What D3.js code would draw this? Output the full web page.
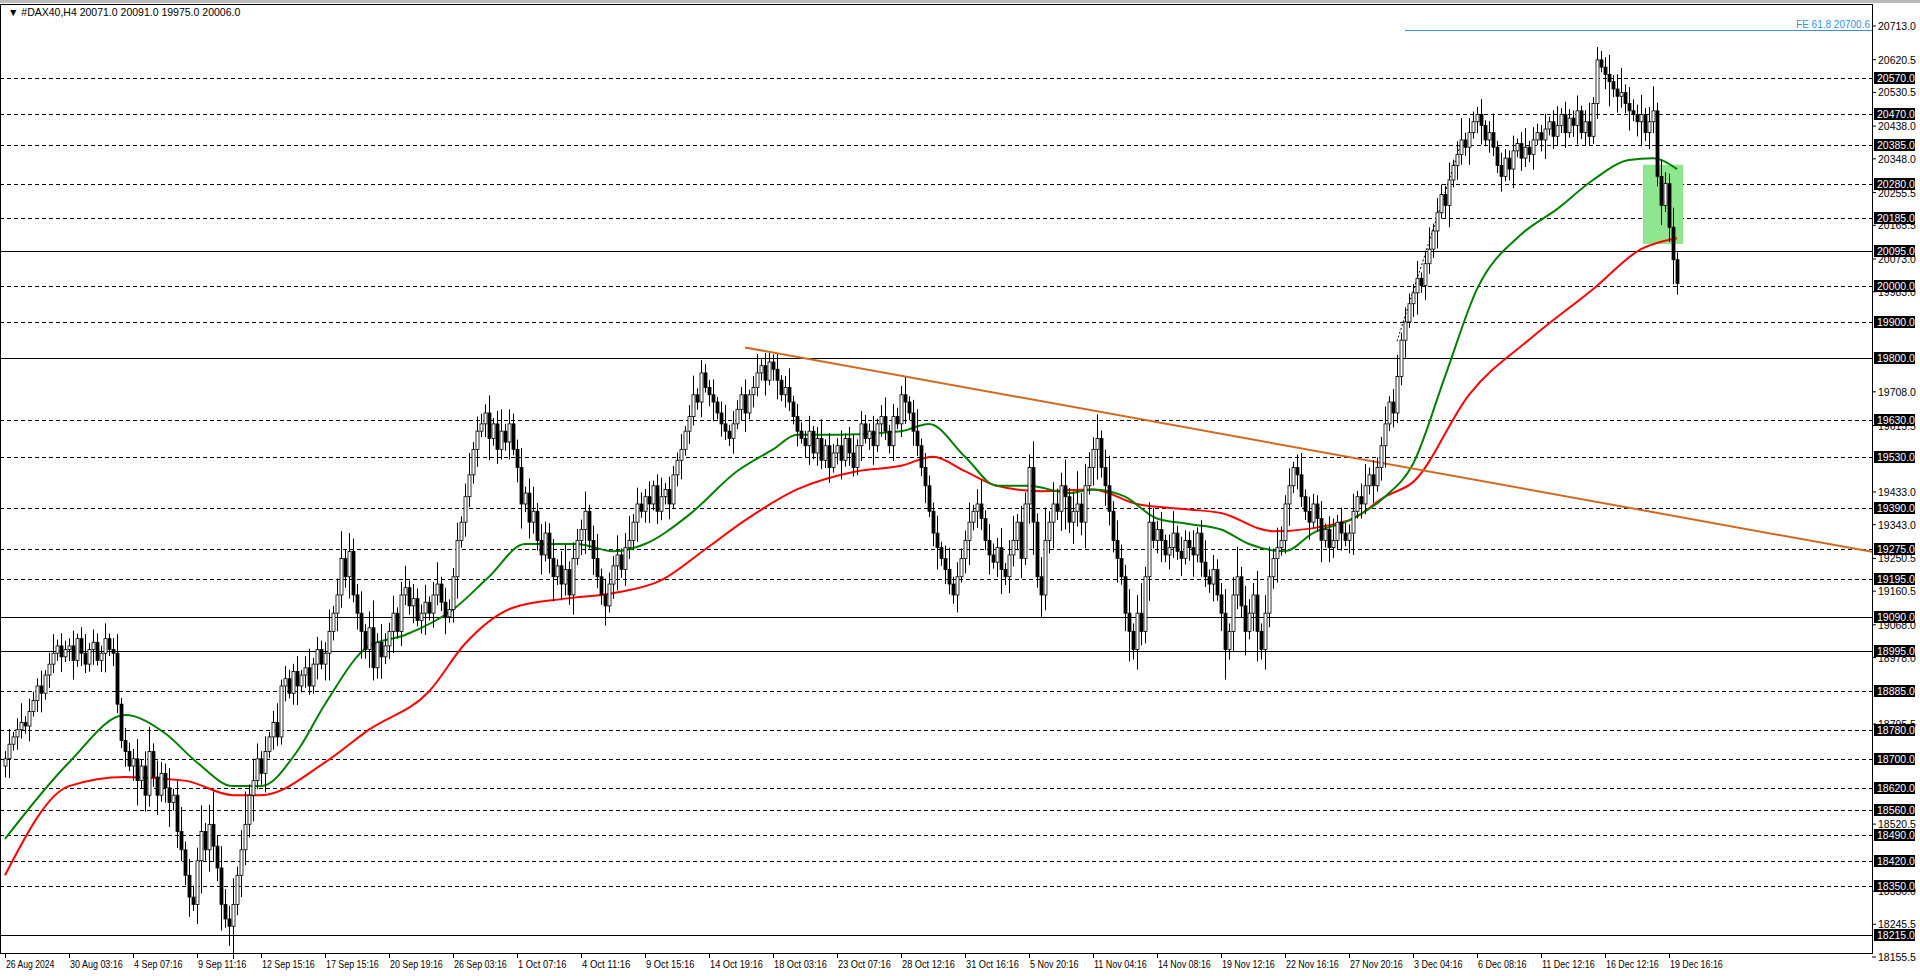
<!DOCTYPE html>
<html><head><meta charset="utf-8">
<script src="https://cdn.jsdelivr.net/npm/d3@7"></script>
<style>
body{margin:0;background:#fff;overflow:hidden}
text{font-family:"Liberation Sans","DejaVu Sans",sans-serif}
</style></head>
<body><svg id="chart" width="1920" height="976"></svg>
<script>
"use strict";
// closes, one per H4 bar
var closes = [
18700,18740,18760,18780,18800,18790,18830,18860,18900,18880,18930,18960,18990,19010,18980,19000,
19010,18970,19030,18990,18960,19000,19020,18970,18990,19030,19000,18990,18850,18750,18720,18680,
18700,18640,18680,18600,18720,18650,18600,18660,18620,18580,18600,18500,18450,18380,18320,18300,
18420,18500,18450,18520,18460,18400,18300,18260,18240,18300,18380,18450,18520,18600,18640,18700,
18660,18720,18760,18800,18760,18900,18920,18880,18940,18900,18930,18950,18900,18960,19000,18960,
18990,19050,19100,19150,19250,19200,19270,19150,19100,19050,19000,19060,18950,19020,18980,19010,
19050,19100,19050,19150,19170,19120,19140,19080,19100,19130,19100,19150,19180,19130,19090,19110,
19200,19300,19350,19420,19480,19550,19600,19620,19650,19580,19620,19550,19600,19570,19620,19550,
19500,19400,19430,19350,19380,19300,19260,19320,19250,19200,19230,19180,19220,19150,19250,19300,
19330,19380,19300,19250,19200,19150,19120,19180,19230,19260,19220,19280,19300,19350,19400,19380,
19420,19400,19450,19380,19420,19440,19400,19480,19520,19550,19600,19640,19700,19680,19760,19720,
19700,19680,19650,19620,19600,19580,19620,19660,19700,19650,19700,19720,19760,19780,19740,19790,
19770,19740,19700,19720,19680,19640,19600,19580,19560,19600,19540,19580,19520,19560,19500,19540,
19560,19520,19580,19540,19500,19560,19620,19580,19600,19560,19620,19640,19600,19560,19640,19620,
19700,19680,19650,19600,19560,19500,19450,19380,19320,19280,19250,19220,19180,19150,19200,19250,
19300,19350,19380,19400,19360,19300,19260,19240,19280,19220,19200,19260,19300,19350,19250,19400,
19500,19350,19200,19150,19300,19350,19400,19380,19450,19420,19350,19380,19400,19350,19450,19500,
19550,19580,19500,19450,19380,19300,19250,19200,19100,19050,19000,19100,19050,19200,19350,19300,
19330,19300,19260,19280,19320,19270,19250,19300,19280,19260,19320,19240,19200,19180,19220,19150,
19100,19000,19050,19150,19200,19120,19050,19100,19150,19050,19000,19100,19200,19250,19280,19300,
19400,19450,19500,19480,19420,19380,19350,19400,19360,19300,19330,19280,19300,19350,19320,19300,
19320,19380,19420,19400,19450,19480,19450,19500,19560,19620,19680,19650,19750,19850,19900,19950,
19980,20020,20000,20060,20100,20150,20200,20250,20220,20290,20330,20360,20400,20380,20420,20450,
20470,20440,20400,20420,20380,20330,20300,20350,20320,20370,20390,20350,20380,20360,20400,20420,
20400,20430,20450,20410,20440,20470,20420,20460,20440,20480,20420,20450,20410,20500,20620,20600,
20580,20560,20540,20520,20530,20500,20480,20470,20450,20470,20420,20450,20480,20300,20220,20280,
20160,20071,20006
];
var firstOpen = 18680;
// wick size per 16-bar segment (points)
var segWick = [35,35,45,60,35,50,40,40,45,45,35,35,35,35,40,45,60,55,40,55,40,40,40,35,35,45,45];
var wickPattern = [0.6,1.2,0.4,0.9,1.5,0.5,1.0,0.7];
var lastBar = {o:20071, h:20091, l:19975, c:20006};

// moving averages, sampled [bar, price]
var maGreen = [[0,18480],[16,18690],[30,18820],[40,18770],[48,18690],[57,18625],[64,18625],[73,18720],[80,18850],[91,19010],[100,19040],[112,19110],[121,19200],[130,19290],[143,19290],[152,19270],[160,19290],[171,19370],[183,19490],[192,19550],[198,19590],[208,19590],[224,19600],[231,19620],[240,19530],[248,19450],[256,19450],[266,19430],[272,19440],[280,19420],[288,19360],[296,19345],[304,19330],[311,19290],[320,19270],[327,19320],[336,19355],[345,19420],[352,19510],[360,19750],[368,19990],[379,20140],[388,20210],[397,20290],[406,20345],[412,20350],[418,20320]];
var maRed = [[0,18380],[16,18625],[30,18650],[45,18640],[57,18600],[64,18600],[80,18690],[91,18780],[106,18885],[115,19016],[127,19115],[140,19140],[152,19155],[164,19190],[175,19275],[185,19355],[198,19440],[213,19490],[224,19505],[232,19530],[240,19490],[248,19450],[259,19435],[272,19440],[283,19400],[296,19385],[304,19375],[317,19325],[336,19355],[345,19420],[352,19460],[366,19700],[382,19860],[397,19990],[409,20100],[418,20130]];

var levelsBoxed = [20570,20470,20385,20280,20185,20095,20000,19900,19800,19630,19530,19390,19275,19195,19090,18995,18885,18780,18700,18620,18560,18490,18420,18350,18215];
var levelsSolid = [20095,19800,19090,18995,18215];
var tickLabels = [20713.0,20620.5,20530.5,20438.0,20348.0,20255.5,20165.5,20073.0,19983.0,19708.0,19615.5,19433.0,19343.0,19250.5,19160.5,19068.0,18978.0,18795.5,18520.5,18336.0,18245.5,18155.5];
var timeLabels = ["26 Aug 2024","30 Aug 03:16","4 Sep 07:16","9 Sep 11:16","12 Sep 15:16","17 Sep 15:16","20 Sep 19:16","26 Sep 03:16","1 Oct 07:16","4 Oct 11:16","9 Oct 15:16","14 Oct 19:16","18 Oct 03:16","23 Oct 07:16","28 Oct 12:16","31 Oct 16:16","5 Nov 20:16","11 Nov 04:16","14 Nov 08:16","19 Nov 12:16","22 Nov 16:16","27 Nov 20:16","3 Dec 04:16","6 Dec 08:16","11 Dec 12:16","16 Dec 12:16","19 Dec 16:16"];
var trendLine = [[185,19830],[467,19268]];
var dashTrend = [[348,19847],[364,20391]];
var fibo = {price:20700.6, fromBar:350, label:"FE 61.8 20700.6"};
var zoneBox = {b0:409.5, b1:419.5, top:20332, bottom:20114};

var svg = d3.select("#chart");
var axisX = 1872, plotBottom = 953;
var x = d3.scaleLinear().domain([0, 1]).range([5, 9]);
var y = d3.scaleLinear().domain([18155.5, 20713]).range([957, 26]);

// build candles
var bars = closes.map(function(c, i){
  var o = i === 0 ? firstOpen : closes[i-1];
  var w = segWick[Math.floor(i/16)] * wickPattern[i % 8];
  var w2 = segWick[Math.floor(i/16)] * wickPattern[(i+3) % 8];
  return {i:i, o:o, c:c, h:Math.max(o,c)+w, l:Math.min(o,c)-w2};
});
var lb = bars[bars.length-1];
lb.o = lastBar.o; lb.h = lastBar.h; lb.l = lastBar.l; lb.c = lastBar.c;

var plot = svg.append("g");
plot.append("rect").attr("x",0.5).attr("y",4.5).attr("width",axisX).attr("height",plotBottom-4)
  .attr("fill","#fff").attr("stroke","#000");
svg.append("line").attr("x1",0).attr("x2",1920).attr("y1",1.5).attr("y2",1.5).attr("stroke","#bbb").attr("stroke-width",3);

// level lines
plot.selectAll(".lvl").data(levelsBoxed).enter().append("line")
  .attr("x1",0).attr("x2",axisX).attr("y1",function(d){return Math.round(y(d))+0.5;})
  .attr("y2",function(d){return Math.round(y(d))+0.5;})
  .attr("stroke","#000").attr("stroke-width",1)
  .attr("stroke-dasharray",function(d){return levelsSolid.indexOf(d) >= 0 ? null : "4,3";});

// zone
plot.append("rect").attr("x",x(zoneBox.b0)).attr("width",x(zoneBox.b1)-x(zoneBox.b0))
  .attr("y",y(zoneBox.top)).attr("height",y(zoneBox.bottom)-y(zoneBox.top)).attr("fill","#8ee68e");

// fibo line
plot.append("line").attr("x1",x(fibo.fromBar)).attr("x2",axisX).attr("y1",y(fibo.price)).attr("y2",y(fibo.price))
  .attr("stroke","#3a8ee6");
plot.append("text").attr("x",axisX-2).attr("y",y(fibo.price)-3).attr("text-anchor","end")
  .attr("font-size",10).attr("fill","#3a8ee6").text(fibo.label);

// moving averages
var ln = d3.line().x(function(d){return x(d[0]);}).y(function(d){return y(d[1]);}).curve(d3.curveMonotoneX);
plot.append("path").attr("d",ln(maRed)).attr("fill","none").attr("stroke","#ff0000").attr("stroke-width",2);
plot.append("path").attr("d",ln(maGreen)).attr("fill","none").attr("stroke","#008000").attr("stroke-width",2);

// trendlines
var slope = (trendLine[1][1]-trendLine[0][1])/(trendLine[1][0]-trendLine[0][0]);
var tEnd = x.invert(axisX);
plot.append("line").attr("x1",x(trendLine[0][0])).attr("y1",y(trendLine[0][1]))
  .attr("x2",axisX).attr("y2",y(trendLine[0][1]+slope*(tEnd-trendLine[0][0])))
  .attr("stroke","#d2691e").attr("stroke-width",2);
plot.append("line").attr("x1",x(dashTrend[0][0])).attr("y1",y(dashTrend[0][1]))
  .attr("x2",x(dashTrend[1][0])).attr("y2",y(dashTrend[1][1]))
  .attr("stroke","#000").attr("stroke-dasharray","2,2");

// candles
var cg = plot.append("g");
cg.selectAll(".wick").data(bars).enter().append("line")
  .attr("x1",function(d){return Math.round(x(d.i))+0.5;}).attr("x2",function(d){return Math.round(x(d.i))+0.5;})
  .attr("y1",function(d){return y(d.h);}).attr("y2",function(d){return y(d.l);})
  .attr("stroke","#000");
cg.selectAll(".body").data(bars).enter().append("rect")
  .attr("x",function(d){return Math.round(x(d.i))-1;}).attr("width",3)
  .attr("y",function(d){return y(Math.max(d.o,d.c));})
  .attr("height",function(d){return Math.max(1, Math.abs(y(d.o)-y(d.c)));})
  .attr("fill",function(d){return d.c >= d.o ? "#fff" : "#000";})
  .attr("stroke","#000").attr("stroke-width",0.8);

// price axis
var ax = svg.append("g");
ax.selectAll(".tk").data(tickLabels).enter().append("line")
  .attr("x1",axisX).attr("x2",axisX+4).attr("y1",function(d){return y(d);}).attr("y2",function(d){return y(d);})
  .attr("stroke","#000");
ax.selectAll(".tl").data(tickLabels).enter().append("text")
  .attr("x",axisX+6).attr("y",function(d){return y(d)+4;}).attr("font-size",10.5).attr("fill","#000")
  .text(function(d){return d.toFixed(1);});
var bx = ax.selectAll(".bx").data(levelsBoxed).enter().append("g")
  .attr("transform",function(d){return "translate(" + (axisX+2) + "," + Math.round(y(d)) + ")";});
bx.append("rect").attr("x",0).attr("y",-6).attr("width",41).attr("height",12).attr("fill","#000");
bx.append("text").attr("x",3).attr("y",4).attr("font-size",10.5).attr("fill","#fff")
  .text(function(d){return d.toFixed(1);});

// time axis
var tg = svg.append("g");
tg.selectAll(".tt").data(timeLabels).enter().append("line")
  .attr("x1",function(d,i){return Math.round(x(i*16))+0.5;}).attr("x2",function(d,i){return Math.round(x(i*16))+0.5;})
  .attr("y1",plotBottom).attr("y2",plotBottom+5).attr("stroke","#000");
tg.selectAll(".tx").data(timeLabels).enter().append("text")
  .attr("x",function(d,i){return x(i*16)+1;}).attr("y",plotBottom+15)
  .attr("font-size",10.5).attr("textLength",function(d){return d.length*4.4;}).attr("lengthAdjust","spacingAndGlyphs")
  .text(function(d){return d;});

// header
svg.append("text").attr("x",8).attr("y",16).attr("font-size",10.5)
  .text("\u25BC #DAX40,H4  20071.0 20091.0 19975.0 20006.0");
</script>
</body></html>
